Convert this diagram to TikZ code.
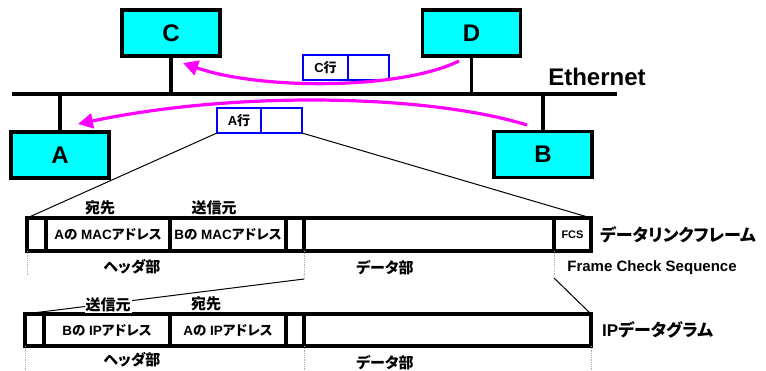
\documentclass[tikz,border=0pt]{standalone}
\usepackage{fontspec}
\setmainfont{Liberation Sans}
\newfontfamily\jpfont{Noto Sans CJK JP Bold}[RawFeature=+palt]
\newcommand{\jt}[1]{{\jpfont #1}}
\usepackage{tikz}
\usetikzlibrary{positioning, arrows.meta}

\definecolor{hostfill}{RGB}{0,255,255}
\definecolor{route}{RGB}{255,0,255}
\definecolor{pktline}{RGB}{0,0,255}

\tikzset{
    host/.style={draw, line width=3.5pt, fill=hostfill, minimum width=98pt, minimum height=46pt,
        font=\bfseries\fontsize{24}{24}\selectfont},
    pkt/.style={draw=pktline, line width=2.2pt, minimum height=25pt, inner sep=0pt, outer sep=0pt,
        font=\bfseries\fontsize{13}{13}\selectfont},
    field/.style={draw, line width=3.5pt, inner sep=0pt, outer sep=0pt,
        font=\bfseries\fontsize{13.5}{13.5}\selectfont},
    tag/.style={inner sep=1pt, font=\bfseries\fontsize{15}{15}\selectfont},
    title/.style={anchor=west, inner sep=0pt, font=\bfseries\fontsize{17}{17}\selectfont},
    move/.style={route, line width=3.2pt, -{Triangle[length=15pt,width=15pt]}},
    zoomline/.style={line width=1pt},
    guide/.style={gray!60, densely dotted, line width=0.8pt},
}

\begin{document}
\begin{tikzpicture}[x=1pt, y=-1pt]
        \useasboundingbox (0,0) rectangle (766,370);

        % hosts and the Ethernet cable
        \node[host] (C) at (171,33)    {C};
        \node[host] (D) at (471.5,33)  {D};
        \node[host] (A) at (60,155)    {A};
        \node[host] (B) at (543,154.5) {B};

        \coordinate (eL) at (12,94);
        \coordinate (eR) at (617,94);
        \draw[line width=3.5pt] (eL) -- (eR);
        \node[font=\bfseries\fontsize{24}{24}\selectfont] (eth) at (597,77) {Ethernet};

        \draw[line width=3.5pt] (C.south) -- (C.south |- eL);
        \draw[line width=3.5pt] (D.south) -- (D.south |- eL);
        \draw[line width=3.5pt] (A.north) -- (A.north |- eL);
        \draw[line width=3.5pt] (B.north) -- (B.north |- eL);

        % packets on the wire
        \node[pkt, minimum width=45pt, anchor=north west] (cpk) at (303,55) {C\jt{行}};
        \node[pkt, minimum width=41pt, right=0pt of cpk] (cpkR) {};
        \node[pkt, minimum width=44pt, anchor=north west] (apk) at (217,108) {A\jt{行}};
        \node[pkt, minimum width=41pt, right=0pt of apk] (apkR) {};

        \coordinate (dOut) at (459,61);
        \coordinate (cIn)  at (183,63);
        \coordinate (bOut) at (527,125);
        \coordinate (aIn)  at (78,124);
        \draw[move] (dOut) .. controls (400,90) and (260,90) .. (cIn);
        \draw[move] (bOut) .. controls (430,95) and (240,90) .. (aIn);

        % data link frame
        \node[field, minimum width=19pt,  minimum height=33pt, anchor=north west] (m0) at (27,218) {};
        \node[field, minimum width=124pt, minimum height=33pt, right=0pt of m0] (m1) {A\jt{の} MAC\jt{アドレス}};
        \node[field, minimum width=116pt, minimum height=33pt, right=0pt of m1] (m2) {B\jt{の} MAC\jt{アドレス}};
        \node[field, minimum width=18pt,  minimum height=33pt, right=0pt of m2] (m3) {};
        \node[field, minimum width=250pt, minimum height=33pt, right=0pt of m3] (m4) {};
        \node[field, minimum width=37pt,  minimum height=33pt, right=0pt of m4,
              font=\bfseries\fontsize{11}{11}\selectfont] (fcs) {FCS};
        \node[title] (dlf) at (600,235) {\jt{データリンクフレーム}};

        \node[tag] (dst1) at (100,208) {\jt{宛先}};
        \node[tag] (src1) at (214,208) {\jt{送信元}};
        \node[tag] (hdr1) at (132,267) {\jt{ヘッダ部}};
        \node[tag] (dat1) at (385,268) {\jt{データ部}};
        \node[font=\bfseries\fontsize{15}{15}\selectfont] (fcsName) at (652,268) {Frame Check Sequence};

        \draw[zoomline] (apk.south west) -- (m0.north west);
        \draw[zoomline] (apkR.south east) -- (fcs.north east);

        % IP datagram
        \node[field, minimum width=19pt,  minimum height=32pt, anchor=north west] (p0) at (25,314) {};
        \node[field, minimum width=126pt, minimum height=32pt, right=0pt of p0] (p1) {B\jt{の} IP\jt{アドレス}};
        \node[field, minimum width=116pt, minimum height=32pt, right=0pt of p1] (p2) {A\jt{の} IP\jt{アドレス}};
        \node[field, minimum width=18pt,  minimum height=32pt, right=0pt of p2] (p3) {};
        \node[field, minimum width=287pt, minimum height=32pt, right=0pt of p3] (p4) {};
        \node[title] (ipd) at (602,330) {IP\jt{データグラム}};

        \coordinate (cutL) at (304,279);
        \coordinate (cutR) at (554,278);
        \draw[guide] (m0.south west) -- ++(0,24);
        \draw[guide] (m4.south west) -- (cutL);
        \draw[guide] (fcs.south west) -- (cutR);
        \draw[zoomline] (cutL) -- (p0.north west);
        \draw[zoomline] (cutR) -- (p4.north east);

        \node[tag, fill=white] (src2) at (108,305) {\jt{送信元}};
        \node[tag] (dst2) at (206,304) {\jt{宛先}};
        \node[tag] (hdr2) at (132,360) {\jt{ヘッダ部}};
        \node[tag] (dat2) at (385,363) {\jt{データ部}};

        \draw[guide] (p0.south west) -- ++(0,24);
        \draw[guide] (p4.south west) -- ++(0,24);
        \draw[guide] (p4.south east) -- ++(0,24);
\end{tikzpicture}
\end{document}
